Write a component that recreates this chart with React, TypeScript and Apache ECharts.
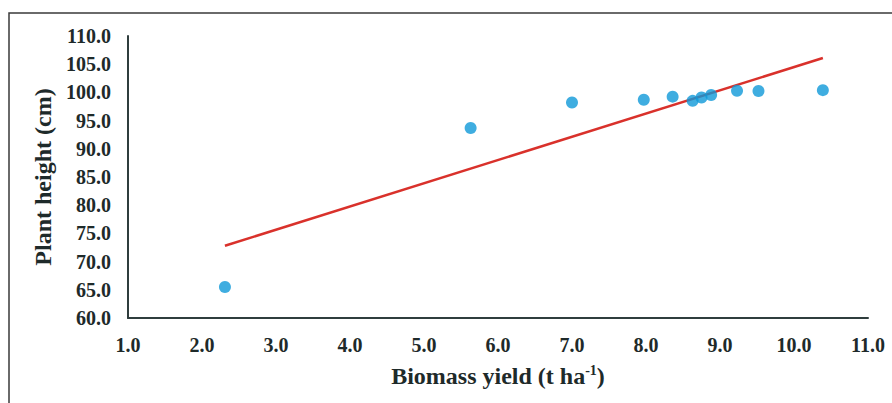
import React, { useEffect, useRef } from "react";
import * as echarts from "echarts";

const biomassYield = [2.31, 5.63, 7.0, 7.97, 8.36, 8.63, 8.75, 8.88, 9.23, 9.52, 10.39];
const plantHeight = [65.5, 93.7, 98.2, 98.7, 99.25, 98.5, 99.1, 99.55, 100.3, 100.26, 100.4];
const trendX = [2.31, 10.39];
const trendY = [72.8, 106.1];

const FONT = "'Liberation Serif', 'Times New Roman', serif";
const AXIS_COLOR = "#2f3d3d";
const TEXT_COLOR = "#1e2a2a";

export default function App() {
  const ref = useRef<HTMLDivElement>(null);
  useEffect(() => {
    if (!ref.current) return;
    const chart = echarts.init(ref.current, null, { renderer: "svg" });
    const points = biomassYield.map((x, i) => [x, plantHeight[i]]);
    const trend = trendX.map((x, i) => [x, trendY[i]]);
    chart.setOption({
      animation: false,
      backgroundColor: "#ffffff",
      graphic: [
        {
          type: "rect",
          shape: { x: 9, y: 13, width: 900, height: 420 },
          style: { fill: "none", stroke: "#3a3a3a", lineWidth: 1.5 },
          silent: true,
        },
      ],
      grid: { left: 128, right: 24, top: 36, bottom: 85 },
      xAxis: {
        type: "value",
        min: 1,
        max: 11,
        interval: 1,
        name: "{a|Biomass yield (t ha}{s|-1}{a|)}",
        nameLocation: "middle",
        nameGap: 45,
        nameTextStyle: {
          rich: {
            a: { fontFamily: FONT, fontWeight: "bold", fontSize: 24, color: TEXT_COLOR, lineHeight: 26 },
            s: { fontFamily: FONT, fontWeight: "bold", fontSize: 14, color: TEXT_COLOR, verticalAlign: "top", lineHeight: 15 },
          },
        },
        axisLine: { show: true, lineStyle: { color: AXIS_COLOR, width: 2 } },
        axisTick: { show: false },
        splitLine: { show: false },
        axisLabel: {
          margin: 17,
          fontFamily: FONT,
          fontWeight: "bold",
          fontSize: 20,
          color: TEXT_COLOR,
          formatter: (v: number) => v.toFixed(1),
        },
      },
      yAxis: {
        type: "value",
        min: 60,
        max: 110,
        interval: 5,
        name: "Plant height (cm)",
        nameLocation: "middle",
        nameGap: 70,
        nameTextStyle: { fontFamily: FONT, fontWeight: "bold", fontSize: 24, color: TEXT_COLOR },
        axisLine: { show: true, lineStyle: { color: AXIS_COLOR, width: 2 } },
        axisTick: { show: false },
        splitLine: { show: false },
        axisLabel: {
          margin: 17,
          fontFamily: FONT,
          fontWeight: "bold",
          fontSize: 20,
          color: TEXT_COLOR,
          formatter: (v: number) => v.toFixed(1),
        },
      },
      series: [
        {
          type: "line",
          data: trend,
          symbol: "none",
          lineStyle: { color: "#d9312b", width: 2.5 },
          z: 2,
        },
        {
          type: "scatter",
          data: points,
          symbolSize: 12,
          itemStyle: { color: "#0f98d8" },
          z: 3,
        },
      ],
    });
    return () => chart.dispose();
  }, []);
  return (
    <div
      ref={ref}
      style={{ position: "fixed", left: 0, top: 0, width: 892, height: 403, background: "#fff" }}
    />
  );
}
